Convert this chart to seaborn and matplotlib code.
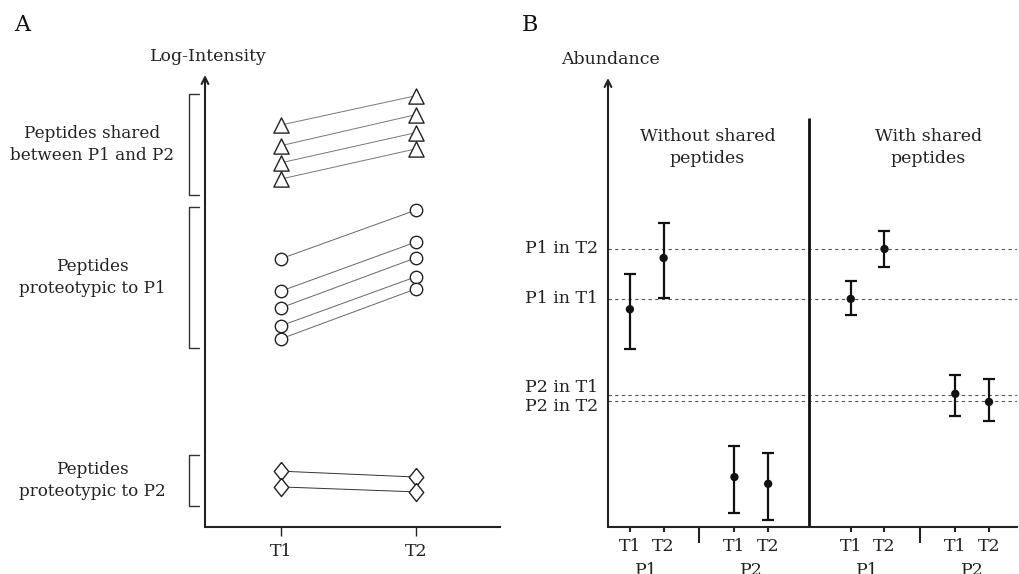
import numpy as np
import pandas as pd
import matplotlib
matplotlib.use("Agg")
import matplotlib.pyplot as plt
import matplotlib.transforms as mtransforms
import seaborn as sns

sns.set_theme(style="white")
plt.rcParams['font.family'] = ['DejaVu Serif']
plt.rcParams['axes.linewidth'] = 1.5

# ---- Panel A data (log-intensity, arbitrary units) ----
time_labels = ['T1', 'T2']
shared_t1 = [89.3, 84.7, 80.9, 77.3]
shared_t2 = [95.8, 91.6, 87.6, 84.0]
p1_t1 = [59.6, 52.4, 48.7, 44.7, 41.8]
p1_t2 = [70.4, 63.3, 59.8, 55.6, 52.9]
p2_t1 = [12.4, 8.9]
p2_t2 = [11.1, 7.8]

# ---- Panel B data (abundance, arbitrary units) ----
conditions = ['Without shared\npeptides', 'With shared\npeptides']
proteins = ['P1', 'P2']
slot_times = ['T1', 'T2', 'T1', 'T2']
without_mean = [48.4, 59.8, 11.1, 9.6]
without_lo = [39.6, 50.9, 3.1, 1.6]
without_hi = [56.2, 67.6, 18.0, 16.4]
with_mean = [50.7, 61.8, 29.6, 27.8]
with_lo = [47.1, 57.8, 24.7, 23.6]
with_hi = [54.7, 65.8, 33.8, 32.9]
ref_labels = ['P1 in T2', 'P1 in T1', 'P2 in T1', 'P2 in T2']
ref_levels = [61.8, 50.7, 29.3, 28.0]

# build long table for panel A
rows = []
for grp, t1, t2 in [('shared', shared_t1, shared_t2), ('P1', p1_t1, p1_t2), ('P2', p2_t1, p2_t2)]:
    for i, (a, b) in enumerate(zip(t1, t2)):
        rows.append({'group': grp, 'peptide': f'{grp}_{i}', 'time': 0, 'intensity': a})
        rows.append({'group': grp, 'peptide': f'{grp}_{i}', 'time': 1, 'intensity': b})
dfA = pd.DataFrame(rows)

fig = plt.figure(figsize=(10.19, 5.74), dpi=100)
axA = fig.add_axes([205 / 1019, 47 / 574, 295 / 1019, 452 / 574])
axB = fig.add_axes([608 / 1019, 47 / 574, 409 / 1019, 449 / 574])

fs = 12.5

# ---------------- Panel A ----------------
line_cols = {'shared': '#777777', 'P1': '#666666', 'P2': '#333333'}
diamond = [(0, 1), (0.8, 0), (0, -1), (-0.8, 0), (0, 1)]
markers = {'shared': ('^', 120), 'P1': ('o', 80), 'P2': (diamond, 170)}
for grp in ['shared', 'P1', 'P2']:
    sub = dfA[dfA['group'] == grp]
    sns.lineplot(data=sub, x='time', y='intensity', units='peptide', estimator=None,
                 color=line_cols[grp], lw=0.7, ax=axA, legend=False, zorder=1)
    m, s = markers[grp]
    sns.scatterplot(data=sub, x='time', y='intensity', marker=m, s=s, color='white',
                    edgecolor='#222222', linewidth=1.0, ax=axA, legend=False, zorder=3)

axA.set_xlim(-0.563, 1.622)
axA.set_ylim(0, 100.4)
axA.set_xticks([0, 1], time_labels)
axA.set_yticks([])
axA.set_xlabel('')
axA.set_ylabel('')
sns.despine(ax=axA, top=True, right=True, left=True)
axA.tick_params(axis='x', bottom=True, length=6.5, width=1, color='#222222', pad=5,
                labelsize=fs, labelcolor='#222222')
axA.spines['bottom'].set_color('#222222')
axA.annotate('', xy=(0, 1.0), xytext=(0, 0), xycoords='axes fraction',
             arrowprops=dict(arrowstyle='->', lw=1.5, color='#222222', shrinkA=0, shrinkB=0))
axA.text(0.01, 1.042, 'Log-Intensity', transform=axA.transAxes, ha='center', va='center',
         fontsize=fs, color='#222222')

trA = mtransforms.blended_transform_factory(axA.transAxes, axA.transData)
brackets = [(96.2, 73.8, 'Peptides shared\nbetween P1 and P2'),
            (71.1, 39.8, 'Peptides\nproteotypic to P1'),
            (16.0, 4.7, 'Peptides\nproteotypic to P2')]
for top, bot, label in brackets:
    axA.plot([-0.020, -0.054, -0.054, -0.020], [top, top, bot, bot], color='#333333',
             lw=1.0, transform=trA, clip_on=False)
    axA.text(-0.383, (top + bot) / 2, label, transform=trA, ha='center', va='center',
             fontsize=12.1, color='#222222', linespacing=1.38)

fig.text(22 / 1019, 1 - 25 / 574, 'A', ha='center', va='center', fontsize=16, color='#111111')

# ---------------- Panel B ----------------
slot_pos = [0, 1, 3.1, 4.1]
cond_offset = [0, 6.55]
dfB = pd.DataFrame({
    'x': [o + p for o in cond_offset for p in slot_pos],
    'mean': without_mean + with_mean,
    'lo': without_lo + with_lo,
    'hi': without_hi + with_hi,
})

for lvl in ref_levels:
    axB.axhline(lvl, ls=(0, (3, 3)), color='#555555', lw=0.8, zorder=1)

axB.errorbar(dfB['x'], dfB['mean'], yerr=[dfB['mean'] - dfB['lo'], dfB['hi'] - dfB['mean']],
             fmt='none', ecolor='#111111', elinewidth=1.6, capsize=4, capthick=1.6, zorder=2)
sns.scatterplot(data=dfB, x='x', y='mean', color='#111111', s=36, edgecolor='none',
                ax=axB, legend=False, zorder=3)

axB.set_xlim(-0.65, 11.48)
axB.set_ylim(0, 99.8)
axB.set_xlabel('')
axB.set_ylabel('')
axB.set_yticks([])
xt = list(dfB['x'])
axB.set_xticks(xt, slot_times * 2)
axB.set_xticks([2.05, cond_offset[1] + 2.05], minor=True)
sns.despine(ax=axB, top=True, right=True, left=True)
axB.spines['bottom'].set_color('#222222')
axB.tick_params(axis='x', which='major', bottom=True, length=3.8, width=1.5, color='#222222',
                pad=4, labelsize=fs, labelcolor='#222222')
axB.tick_params(axis='x', which='minor', bottom=True, length=11.5, width=1.5, color='#222222')
axB.annotate('', xy=(0, 1.0), xytext=(0, 0), xycoords='axes fraction',
             arrowprops=dict(arrowstyle='->', lw=1.5, color='#222222', shrinkA=0, shrinkB=0))
axB.text(0.005, 1.042, 'Abundance', transform=axB.transAxes, ha='center', va='center',
         fontsize=fs, color='#222222')

# divider between conditions
axB.vlines((4.1 + cond_offset[1]) / 2, 0, 90.9, color='#111111', lw=2)

trB = mtransforms.blended_transform_factory(axB.transData, axB.transAxes)
for off, cond in zip(cond_offset, conditions):
    axB.text(off + 2.3, 0.845, cond, transform=trB, ha='center', va='center', fontsize=fs,
             color='#222222', linespacing=1.35)
    for k, prot in enumerate(proteins):
        axB.text(off + slot_pos[2 * k] + 0.5, -0.106, prot, transform=trB, ha='center',
                 va='baseline', fontsize=fs, color='#222222')

trL = mtransforms.blended_transform_factory(axB.transAxes, axB.transData)
label_shift = [0, 0, 1.8, -1.3]
for lab, lvl, sh in zip(ref_labels, ref_levels, label_shift):
    axB.text(-0.024, lvl + sh, lab, transform=trL, ha='right', va='center', fontsize=fs,
             color='#222222')

fig.text(530 / 1019, 1 - 25 / 574, 'B', ha='center', va='center', fontsize=16, color='#111111')

fig.savefig('out.png', dpi=100)
